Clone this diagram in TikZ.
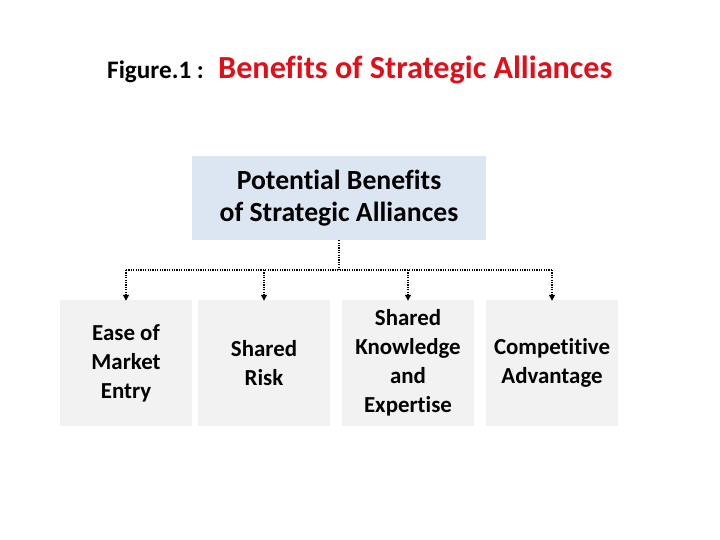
\documentclass[tikz,border=0pt]{standalone}
\usepackage{fontspec}
\setmainfont[Ligatures=NoCommon]{Carlito}
\usetikzlibrary{arrows.meta}
\definecolor{titlered}{RGB}{224,16,26}
\definecolor{topfill}{RGB}{220,230,242}
\definecolor{boxfill}{RGB}{242,242,242}
\tikzset{
  topbox/.style={fill=topfill, minimum width=294pt, minimum height=84pt, inner sep=0pt, align=center, font=\bfseries\fontsize{27.7}{32.5}\selectfont},
  leafbox/.style={fill=boxfill, minimum width=132pt, minimum height=126pt, inner sep=0pt, align=center, font=\bfseries\fontsize{22.9}{29}\selectfont},
  conn/.style={line width=1.4pt, dash pattern=on 1.2pt off 1.2pt},
  arr/.style={conn, -{Triangle[width=6pt,length=6pt]}}
}
\begin{document}
\begin{tikzpicture}[x=1pt,y=-1pt]
\useasboundingbox (0,0) rectangle (720,540);
\node[anchor=base west, inner sep=0pt, font=\bfseries\fontsize{25.2}{30}\selectfont] (fig) at (107,79) {Figure.1 :};
\node[anchor=base west, inner sep=0pt, font=\bfseries\fontsize{32.2}{38}\selectfont, text=titlered] (title) at (218,79) {Benefits of Strategic Alliances};
\node[topbox] (top) at (339,198) {Potential Benefits\\of Strategic Alliances};
\node[leafbox] (b1) at (126,363) {Ease of\\Market\\Entry};
\node[leafbox] (b2) at (264,363) {Shared\\Risk};
\node[leafbox] (b3) at (408,363) {Shared\\Knowledge\\and\\Expertise};
\node[leafbox] (b4) at (552,363) {Competitive\\Advantage};
\coordinate (hub) at (339,270);
\draw[conn] (top.south) -- (hub);
\draw[conn] (b1.north |- hub) -- (b4.north |- hub);
\foreach \b in {b1,b2,b3,b4}{
  \draw[arr] (\b.north |- hub) -- ([yshift=-1pt]\b.north);
}
\end{tikzpicture}
\end{document}
